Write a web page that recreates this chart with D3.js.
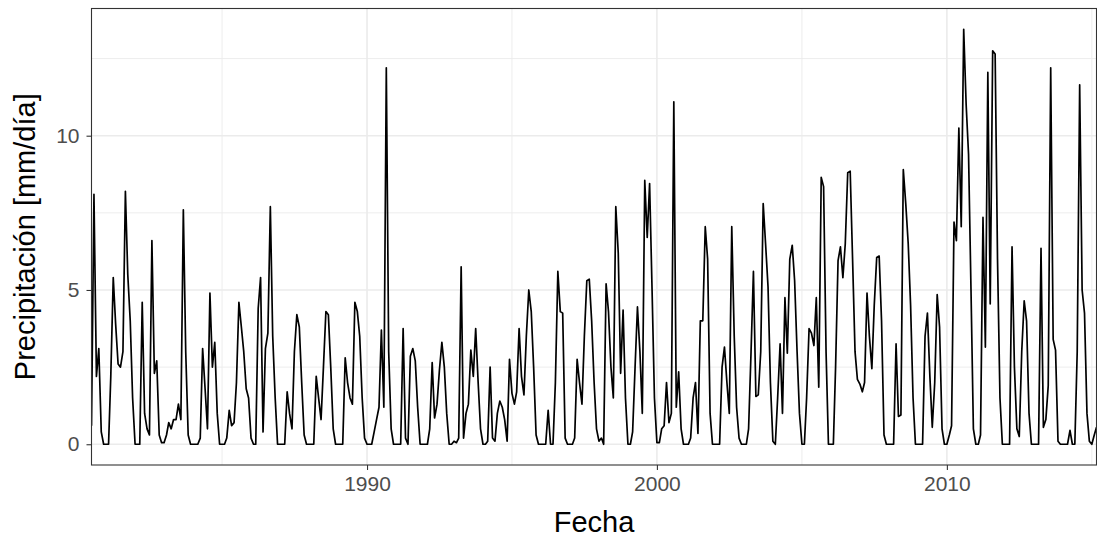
<!DOCTYPE html>
<html>
<head>
<meta charset="utf-8">
<script src="https://cdn.jsdelivr.net/npm/d3@7"></script>
<style>
  body { margin: 0; background: #ffffff; }
  svg { display: block; }
  text { font-family: "Liberation Sans", Arial, Helvetica, sans-serif; }
</style>
</head>
<body>
<svg id="chart" width="1097" height="537"></svg>
<script>
// Monthly series starts in July 1980 (year, zero-based month)
const inicioSerie = [1980, 6];

// Monthly mean precipitation, mm/day
const precipitacion = [
  0.6, 8.1, 2.2, 3.1, 0.4, 0, 0, 0, 2.2, 5.4, 3.9, 2.6,
  2.5, 3.0, 8.2, 5.5, 4.0, 1.5, 0, 0, 0, 4.6, 1.0, 0.5,
  0.3, 6.6, 2.3, 2.7, 0.3, 0.05, 0.05, 0.3, 0.7, 0.5, 0.8, 0.8,
  1.3, 0.8, 7.6, 3.0, 0.3, 0, 0, 0, 0, 0.2, 3.1, 1.8,
  0.5, 4.9, 2.5, 3.3, 1.0, 0, 0, 0, 0.2, 1.1, 0.6, 0.7,
  2.0, 4.6, 3.8, 3.0, 1.8, 1.5, 0.2, 0, 0, 4.4, 5.4, 0.4,
  3.1, 3.6, 7.7, 3.5, 1.5, 0, 0, 0, 0, 1.7, 1.0, 0.5,
  3.0, 4.2, 3.8, 2.0, 0.3, 0, 0, 0, 0, 2.2, 1.5, 0.8,
  2.5, 4.3, 4.2, 2.5, 0.5, 0, 0, 0, 0, 2.8, 2.0, 1.5,
  1.3, 4.6, 4.3, 3.5, 1.5, 0.2, 0, 0, 0, 0.4, 0.8, 1.2,
  3.7, 1.2, 12.2, 3.0, 0.5, 0, 0, 0, 0, 3.75, 0.2, 0,
  2.85, 3.1, 2.7, 1.2, 0, 0, 0, 0, 0.5, 2.65, 0.85, 1.3,
  2.4, 3.3, 2.5, 1.0, 0, 0, 0.1, 0.05, 0.2, 5.75, 0.2, 1.0,
  1.3, 3.05, 2.2, 3.75, 2.0, 0.5, 0, 0, 0.1, 2.5, 0.2, 0.1,
  1.0, 1.4, 1.2, 0.8, 0.1, 2.75, 1.65, 1.3, 1.7, 3.75, 2.2, 1.6,
  3.5, 5.0, 4.3, 2.5, 0.3, 0, 0, 0, 0, 1.1, 0, 0,
  2.0, 5.6, 4.3, 4.25, 0.2, 0, 0, 0, 0.2, 2.75, 2.0, 1.3,
  3.5, 5.3, 5.35, 4.0, 2.0, 0.5, 0.1, 0.2, 0, 5.2, 4.3, 2.5,
  1.5, 7.7, 6.2, 2.3, 4.35, 1.5, 0, 0, 0.4, 2.5, 4.45, 3.0,
  1.0, 8.55, 6.7, 8.45, 5.0, 1.5, 0.05, 0.05, 0.5, 0.6, 2.0, 0.7,
  1.0, 11.1, 1.2, 2.35, 0.5, 0, 0, 0, 0.2, 1.5, 2.0, 0.35,
  4.0, 4.0, 7.05, 6.0, 1.0, 0, 0, 0, 0, 2.5, 3.15, 2.0,
  1.0, 7.05, 3.5, 1.2, 0.2, 0, 0, 0, 0.5, 3.0, 5.6, 1.55,
  1.6, 3.0, 7.8, 6.5, 5.1, 2.0, 0.1, 0, 1.5, 3.25, 1.0, 4.75,
  2.95, 6.0, 6.45, 5.3, 3.0, 1.0, 0, 0, 1.5, 3.75, 3.6, 3.2,
  4.75, 1.85, 8.65, 8.35, 3.0, 0, 0, 0, 2.5, 5.95, 6.4, 5.4,
  6.5, 8.8, 8.85, 6.0, 3.0, 2.1, 1.95, 1.7, 2.0, 4.9, 3.5, 2.45,
  4.5, 6.05, 6.1, 4.0, 0.3, 0, 0, 0, 0, 3.25, 0.9, 0.95,
  8.9, 7.8, 6.5, 4.5, 1.5, 0, 0, 0, 0, 3.5, 4.25, 2.2,
  0.55, 2.0, 4.85, 3.8, 0.5, 0, 0, 0.3, 0.6, 7.2, 6.6, 10.25,
  7.05, 13.45, 11.0, 9.4, 5.0, 0.5, 0, 0, 0.3, 7.35, 3.15, 12.05,
  4.55, 12.75, 12.65, 6.0, 1.5, 0, 0, 0, 0, 6.4, 2.5, 0.5,
  0.25, 3.0, 4.65, 4.0, 1.0, 0, 0, 0, 0, 6.35, 0.55, 0.8,
  1.9, 12.2, 3.4, 3.05, 0.1, 0, 0, 0, 0, 0.45, 0, 0,
  3.0, 11.65, 5.0, 4.25, 1.0, 0.1, 0, 0.3, 0.55
];

// Axis breaks
const yBreaks = [0, 5, 10];
const yMinorBreaks = [2.5, 7.5, 12.5];
const xBreakYears = [1990, 2000, 2010];
const xMinorYears = [1985, 1995, 2005, 2015];

const tituloX = "Fecha";
const tituloY = "Precipitación [mm/día]";

const fechas = precipitacion.map((_, i) => new Date(inicioSerie[0], inicioSerie[1] + i, 1));
const serie = fechas.map((f, i) => ({ fecha: f, valor: precipitacion[i] }));

const svg = d3.select("#chart");
const panel = { left: 91.5, right: 1096.5, top: 8.5, bottom: 465 };

const x = d3.scaleTime()
  .domain(d3.extent(fechas))
  .range([panel.left, panel.right]);

const yMin = d3.min(precipitacion), yMax = d3.max(precipitacion);
const yPad = 0.05 * (yMax - yMin);
const y = d3.scaleLinear()
  .domain([yMin - yPad, yMax + yPad])
  .range([panel.bottom, panel.top]);

const anio = a => new Date(a, 0, 1);

// panel background
svg.append("rect")
  .attr("x", panel.left).attr("y", panel.top)
  .attr("width", panel.right - panel.left)
  .attr("height", panel.bottom - panel.top)
  .attr("fill", "#ffffff");

const grid = svg.append("g");
// minor grid
grid.selectAll("line.ymin").data(yMinorBreaks).join("line")
  .attr("x1", panel.left).attr("x2", panel.right)
  .attr("y1", d => y(d)).attr("y2", d => y(d))
  .attr("stroke", "#ebebeb").attr("stroke-width", 0.9);
grid.selectAll("line.xmin").data(xMinorYears.filter(a => x(anio(a)) <= panel.right)).join("line")
  .attr("y1", panel.top).attr("y2", panel.bottom)
  .attr("x1", d => x(anio(d))).attr("x2", d => x(anio(d)))
  .attr("stroke", "#ebebeb").attr("stroke-width", 0.9);
// major grid
grid.selectAll("line.ymaj").data(yBreaks).join("line")
  .attr("x1", panel.left).attr("x2", panel.right)
  .attr("y1", d => y(d)).attr("y2", d => y(d))
  .attr("stroke", "#ebebeb").attr("stroke-width", 1.6);
grid.selectAll("line.xmaj").data(xBreakYears).join("line")
  .attr("y1", panel.top).attr("y2", panel.bottom)
  .attr("x1", d => x(anio(d))).attr("x2", d => x(anio(d)))
  .attr("stroke", "#ebebeb").attr("stroke-width", 1.6);

// clip to panel
svg.append("clipPath").attr("id", "recorte")
  .append("rect")
  .attr("x", panel.left).attr("y", panel.top)
  .attr("width", panel.right - panel.left)
  .attr("height", panel.bottom - panel.top);

const linea = d3.line()
  .x(d => x(d.fecha))
  .y(d => y(d.valor));

svg.append("path")
  .datum(serie)
  .attr("clip-path", "url(#recorte)")
  .attr("d", linea)
  .attr("fill", "none")
  .attr("stroke", "#000000")
  .attr("stroke-width", 1.7)
  .attr("stroke-linejoin", "round");

// panel border
svg.append("rect")
  .attr("x", panel.left).attr("y", panel.top)
  .attr("width", panel.right - panel.left)
  .attr("height", panel.bottom - panel.top)
  .attr("fill", "none")
  .attr("stroke", "#333333")
  .attr("stroke-width", 1.1);

// axes
const ejeX = svg.append("g")
  .attr("transform", `translate(0,${panel.bottom})`)
  .call(d3.axisBottom(x)
    .tickValues(xBreakYears.map(anio))
    .tickFormat(d3.timeFormat("%Y"))
    .tickSize(5).tickPadding(6));
const ejeY = svg.append("g")
  .attr("transform", `translate(${panel.left},0)`)
  .call(d3.axisLeft(y)
    .tickValues(yBreaks)
    .tickFormat(d3.format("d"))
    .tickSize(5).tickPadding(7));

[ejeX, ejeY].forEach(g => {
  g.select(".domain").remove();
  g.selectAll(".tick line").attr("stroke", "#333333").attr("stroke-width", 1.1);
  g.selectAll(".tick text")
    .attr("fill", "#4d4d4d")
    .style("font-size", "21px")
    .style("font-family", "\"Liberation Sans\", Arial, sans-serif");
});

// axis titles
svg.append("text")
  .attr("x", (panel.left + panel.right) / 2)
  .attr("y", 532)
  .attr("text-anchor", "middle")
  .attr("fill", "#000000")
  .style("font-size", "29px")
  .text(tituloX);

svg.append("text")
  .attr("transform", `translate(35,${(panel.top + panel.bottom) / 2}) rotate(-90)`)
  .attr("text-anchor", "middle")
  .attr("fill", "#000000")
  .style("font-size", "29px")
  .text(tituloY);
</script>
</body>
</html>
